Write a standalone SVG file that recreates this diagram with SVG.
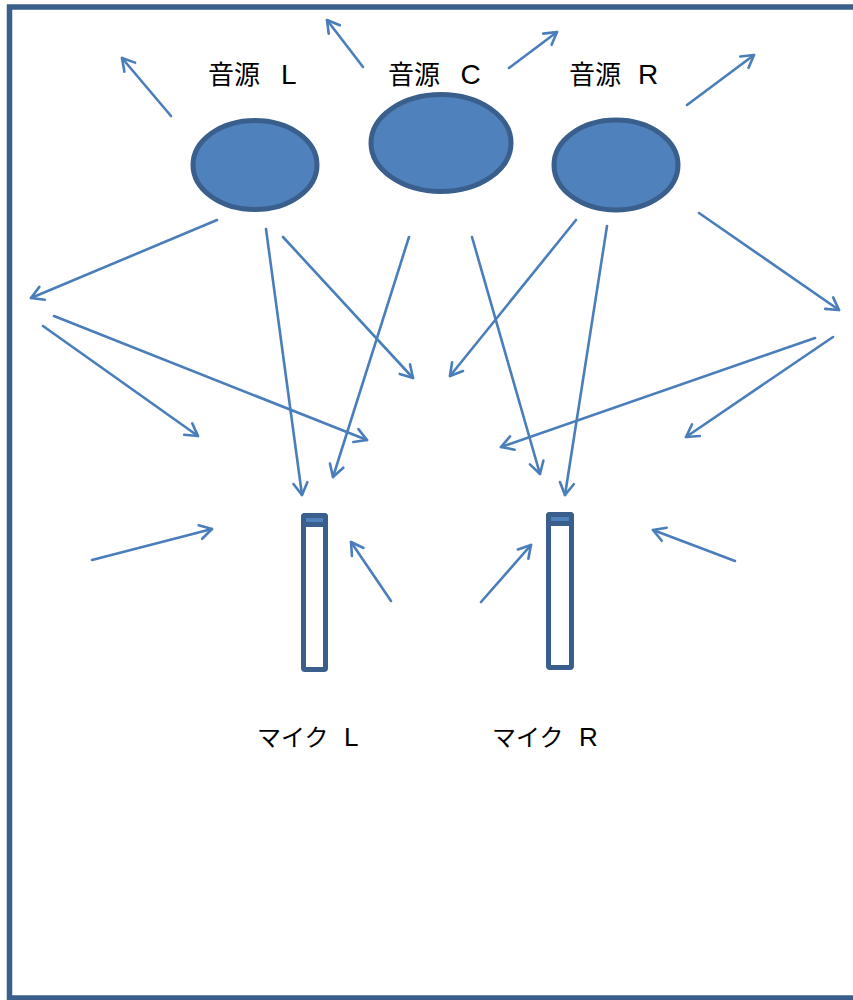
<svg xmlns="http://www.w3.org/2000/svg" width="853" height="1000" viewBox="0 0 853 1000">
  <style>
    .src { fill: #4F81BD; stroke: #3A5F8C; stroke-width: 5; }
    .mic { fill: #FFFFFF; stroke: #3A5F8C; stroke-width: 5; stroke-linejoin: round; }
    .cap { fill: #4F81BD; stroke: #3A5F8C; stroke-width: 5; stroke-linejoin: round; }
    .ray { fill: none; stroke: #4A7EBB; stroke-width: 2.6; stroke-linecap: round; marker-end: url(#arr); }
    .lbl { font-family: "Liberation Sans", "Noto Sans CJK JP", sans-serif; fill: #000000; }
  </style>
  <defs>
    <marker id="arr" viewBox="-16 -10 20 20" markerWidth="20" markerHeight="20" refX="0" refY="0" orient="auto" markerUnits="userSpaceOnUse">
      <path d="M -12,-7 L 0,0 L -12,7" fill="none" stroke="#4A7EBB" stroke-width="2.6" stroke-linecap="round" stroke-linejoin="round"/>
    </marker>
  </defs>
  <rect x="0" y="0" width="853" height="1000" fill="#FFFFFF"/>
  <g id="frame">
    <path d="M 853,7 H 9.5 V 998 H 853" fill="none" stroke="#3A5F8C" stroke-width="5.5"/>
  </g>
  <g id="connectors">
    <line class="ray" x1="171" y1="116" x2="122" y2="58"/>
    <line class="ray" x1="363" y1="67" x2="327" y2="20"/>
    <line class="ray" x1="509" y1="68" x2="557" y2="32"/>
    <line class="ray" x1="687" y1="105" x2="754" y2="55"/>
    <line class="ray" x1="217" y1="220" x2="31" y2="298"/>
    <line class="ray" x1="266" y1="229" x2="302" y2="495"/>
    <line class="ray" x1="283" y1="237" x2="413" y2="378"/>
    <line class="ray" x1="409" y1="237" x2="333" y2="477"/>
    <line class="ray" x1="472" y1="237" x2="540" y2="474"/>
    <line class="ray" x1="576" y1="220" x2="450" y2="376"/>
    <line class="ray" x1="607" y1="226" x2="565" y2="495"/>
    <line class="ray" x1="699" y1="213" x2="839" y2="310"/>
    <line class="ray" x1="43" y1="326" x2="198" y2="436"/>
    <line class="ray" x1="54" y1="316" x2="367" y2="440"/>
    <line class="ray" x1="815" y1="338" x2="501" y2="447"/>
    <line class="ray" x1="833" y1="337" x2="686" y2="437"/>
    <line class="ray" x1="92" y1="560" x2="212" y2="529"/>
    <line class="ray" x1="391" y1="601" x2="351" y2="542"/>
    <line class="ray" x1="481" y1="602" x2="531" y2="545"/>
    <line class="ray" x1="735" y1="561" x2="653" y2="530"/>
  </g>
  <g id="source-L">
    <ellipse class="src" cx="255" cy="165" rx="62" ry="44.5"/>
    <text class="lbl" x="208" y="84" font-size="26">音源 <tspan x="281" font-size="28">L</tspan></text>
  </g>
  <g id="source-C">
    <ellipse class="src" cx="441" cy="143" rx="70" ry="48.5"/>
    <text class="lbl" x="388" y="84" font-size="26">音源 <tspan x="460.5" font-size="28">C</tspan></text>
  </g>
  <g id="source-R">
    <ellipse class="src" cx="616" cy="165" rx="62" ry="45"/>
    <text class="lbl" x="569" y="84" font-size="26">音源 <tspan x="638" font-size="28">R</tspan></text>
  </g>
  <g id="mic-L">
    <rect class="mic" x="303.5" y="515.5" width="22" height="154" rx="1.5"/>
    <rect class="cap" x="303.5" y="515.5" width="22" height="9" rx="1.5"/>
    <text class="lbl" x="257" y="746" font-size="24">マイク <tspan x="344" font-size="26">L</tspan></text>
  </g>
  <g id="mic-R">
    <rect class="mic" x="548.5" y="514.5" width="23" height="153" rx="1.5"/>
    <rect class="cap" x="548.5" y="514.5" width="23" height="9" rx="1.5"/>
    <text class="lbl" x="492" y="746" font-size="24">マイク <tspan x="579" font-size="26">R</tspan></text>
  </g>
</svg>
